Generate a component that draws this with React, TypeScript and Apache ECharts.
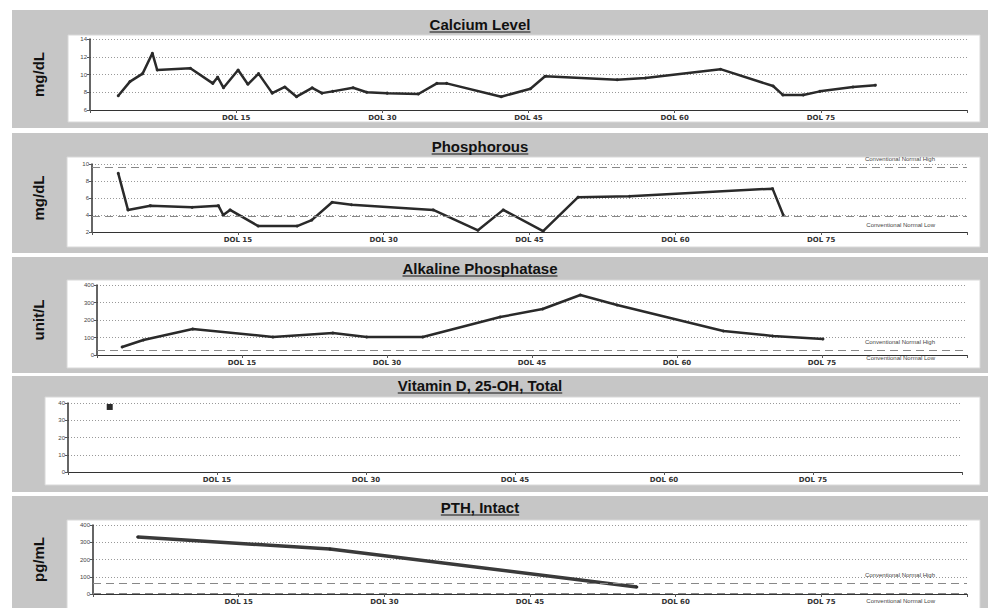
import React, { useEffect, useRef } from "react";
import * as echarts from "echarts";

// ---- data ----
const tickDays = [0, 15, 30, 45, 60, 75, 90];
const dolLabels = ["", "DOL 15", "DOL 30", "DOL 45", "DOL 60", "DOL 75", ""];

const panelTitles = ["Calcium Level", "Phosphorous", "Alkaline Phosphatase", "Vitamin D, 25-OH, Total", "PTH, Intact"];
const unitNames = ["mg/dL", "mg/dL", "unit/L", "", "pg/mL"];

const caDays = [2.9, 4.1, 5.4, 6.4, 6.9, 10.3, 12.6, 13.1, 13.7, 15.2, 16.2, 17.3, 18.7, 20.0, 21.2, 22.8, 23.8, 24.9, 27.0, 28.4, 30.5, 33.7, 35.6, 36.6, 42.2, 45.2, 46.7, 54.1, 57.0, 64.7, 70.1, 71.1, 73.2, 74.9, 78.3, 80.6];
const caValues = [7.6, 9.2, 10.1, 12.4, 10.5, 10.7, 9.0, 9.7, 8.5, 10.5, 8.9, 10.1, 7.9, 8.6, 7.5, 8.5, 7.9, 8.1, 8.5, 8.0, 7.9, 7.8, 9.0, 9.0, 7.5, 8.4, 9.8, 9.4, 9.6, 10.6, 8.7, 7.7, 7.7, 8.1, 8.6, 8.8];

const phDays = [2.7, 3.7, 6.0, 10.3, 13.0, 13.5, 14.2, 17.1, 21.1, 22.6, 24.7, 26.7, 35.1, 39.7, 42.3, 46.4, 50.0, 55.3, 70.0, 71.1];
const phValues = [8.9, 4.6, 5.1, 4.9, 5.1, 4.0, 4.6, 2.7, 2.7, 3.4, 5.5, 5.2, 4.6, 2.2, 4.6, 2.1, 6.1, 6.2, 7.1, 4.0];
const phNormal = [9.6, 3.8];

const alpDays = [2.6, 4.8, 9.9, 18.2, 24.4, 27.9, 33.7, 41.7, 46.1, 50.0, 53.8, 64.8, 69.9, 75.1];
const alpValues = [46, 86, 149, 103, 126, 103, 103, 217, 263, 343, 286, 137, 109, 91];
const alpNormal = [30, 27];

const vdDays = [4.2];
const vdValues = [37.7];

const pthDays = [4.6, 24.4, 56.0];
const pthValues = [330, 261, 41];
const pthNormal = [64, 4];

const yRanges = [
  [6, 14, 2],
  [2, 10, 2],
  [0, 400, 100],
  [0, 40, 10],
  [0, 400, 100],
];

// ---- layout ----
const grids = [
  { left: 90, top: 39, width: 877, height: 71 },
  { left: 92, top: 164, width: 875, height: 68 },
  { left: 97, top: 285, width: 870, height: 70 },
  { left: 68, top: 403, width: 894, height: 69 },
  { left: 93, top: 525, width: 874, height: 69 },
];
const bands = [
  { y: 10, h: 118, wy: 35, wh: 87, wx: 68, ty: 24 },
  { y: 133, h: 120, wy: 157, wh: 90, wx: 67, ty: 146 },
  { y: 257, h: 116, wy: 280, wh: 88, wx: 67, ty: 268 },
  { y: 376, h: 116, wy: 397, wh: 88, wx: 45, ty: 385 },
  { y: 496, h: 120, wy: 520, wh: 95, wx: 67, ty: 507 },
];

const TITLE_FONT = "bold 15px 'Liberation Sans', Arial, sans-serif";

function measure(text: string, font: string) {
  const c = document.createElement("canvas").getContext("2d");
  if (!c) return text.length * 8;
  c.font = font;
  return c.measureText(text).width;
}

function pairs(xs: number[], ys: number[]) {
  return xs.map((x, i) => [x, ys[i]]);
}

export default function App() {
  const ref = useRef<HTMLDivElement>(null);
  useEffect(() => {
    document.body.style.margin = "0";
    if (!ref.current) return;
    const chart = echarts.init(ref.current, null, { renderer: "svg" });

    const graphic: any[] = [];
    bands.forEach((b, i) => {
      graphic.push({ type: "rect", z: -20, shape: { x: 12, y: b.y, width: 976, height: b.h }, style: { fill: "#c6c6c6" } });
      graphic.push({ type: "rect", z: -19, shape: { x: b.wx, y: b.wy, width: 980 - b.wx, height: b.wh }, style: { fill: "#ffffff", stroke: "#d8d8d8", lineWidth: 1 } });
      const t = panelTitles[i];
      const w = measure(t, TITLE_FONT);
      graphic.push({
        type: "text", z: 10, x: 480, y: b.ty,
        style: { text: t, font: TITLE_FONT, fill: "#111", align: "center", verticalAlign: "middle" },
      });
      graphic.push({ type: "line", z: 10, shape: { x1: 480 - w / 2, y1: b.ty + 8, x2: 480 + w / 2, y2: b.ty + 8 }, style: { stroke: "#111", lineWidth: 1.2 } });
      if (unitNames[i]) {
        const g = grids[i];
        graphic.push({
          type: "text", z: 10, x: 38, y: g.top + g.height / 2, rotation: Math.PI / 2,
          style: { text: unitNames[i], font: "bold 15px 'Liberation Sans', Arial, sans-serif", fill: "#111", align: "center", verticalAlign: "middle" },
        });
      }
    });

    const xAxis = grids.map((_, i) => ({
      type: "value", gridIndex: i, min: 0, max: 90, interval: 15,
      axisLine: { show: true, lineStyle: { color: "#333", width: 1 } },
      axisTick: { show: true, length: 3, lineStyle: { color: "#555" } },
      splitLine: { show: false },
      axisLabel: {
        fontSize: 7, fontWeight: "bold", color: "#333", margin: 4,
        fontFamily: "'DejaVu Sans', sans-serif",
        formatter: (v: number) => dolLabels[tickDays.indexOf(v)] ?? "",
      },
    }));
    const yAxis = grids.map((_, i) => ({
      type: "value", gridIndex: i, min: yRanges[i][0], max: yRanges[i][1], interval: yRanges[i][2],
      axisLine: { show: true, lineStyle: { color: "#333", width: 1.5 } },
      axisTick: { show: true, length: 3, lineStyle: { color: "#555" } },
      axisLabel: { fontSize: 6, color: "#444", margin: 3 },
      splitLine: { show: true, lineStyle: { color: "#999", type: [1, 2], width: 1 } },
    }));

    const normalLabel = (pos: string) => ({
      show: true, position: pos, formatter: "{b}", fontSize: 6, color: "#444",
      padding: [0, 27, 0, 0],
    });
    const normalLines = (vals: number[]) => ({
      symbol: "none", silent: true,
      lineStyle: { color: "#888", type: [8, 5], width: 1 },
      data: [
        { yAxis: vals[0], name: "Conventional Normal High", label: normalLabel("insideEndTop") },
        { yAxis: vals[1], name: "Conventional Normal Low", label: normalLabel("insideEndBottom") },
      ],
    });

    const lineBase = {
      type: "line", symbol: "circle", symbolSize: 3,
      lineStyle: { color: "#2a2a2a", width: 2.5 },
      itemStyle: { color: "#2a2a2a" },
    };

    const series: any[] = [
      { ...lineBase, name: "Calcium", xAxisIndex: 0, yAxisIndex: 0, data: pairs(caDays, caValues) },
      { ...lineBase, name: "Phosphorous", xAxisIndex: 1, yAxisIndex: 1, data: pairs(phDays, phValues), markLine: normalLines(phNormal) },
      { ...lineBase, name: "ALP", xAxisIndex: 2, yAxisIndex: 2, data: pairs(alpDays, alpValues), markLine: normalLines(alpNormal) },
      { ...lineBase, name: "VitD", xAxisIndex: 3, yAxisIndex: 3, symbol: "rect", symbolSize: 6, data: pairs(vdDays, vdValues) },
      { ...lineBase, name: "PTH", xAxisIndex: 4, yAxisIndex: 4, lineStyle: { color: "#3a3a3a", width: 3.5 }, data: pairs(pthDays, pthValues), markLine: normalLines(pthNormal) },
    ];

    chart.setOption({
      animation: false,
      backgroundColor: "#ffffff",
      textStyle: { fontFamily: "'Liberation Sans', Arial, sans-serif" },
      grid: grids.map((g) => ({ ...g, containLabel: false, outerBoundsMode: "none" })),
      xAxis, yAxis, series, graphic,
    });
    return () => chart.dispose();
  }, []);
  return <div ref={ref} style={{ width: 990, height: 608, position: "absolute", left: 0, top: 0 }} />;
}
